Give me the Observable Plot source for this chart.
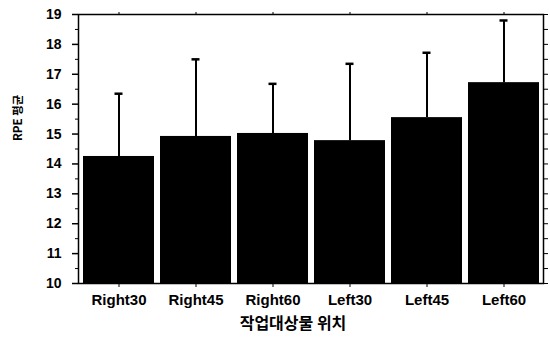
<!DOCTYPE html>
<html>
<head>
<meta charset="utf-8">
<script src="https://cdn.jsdelivr.net/npm/d3@7"></script>
<script src="https://cdn.jsdelivr.net/npm/@observablehq/plot@0.6"></script>
<style>
  html, body { margin: 0; padding: 0; background: #fff; }
</style>
</head>
<body>
<div id="chart"></div>
<script>
const categories = ["Right30", "Right45", "Right60", "Left30", "Left45", "Left60"];
const means = [14.25, 14.92, 15.02, 14.78, 15.55, 16.72];
const upper = [16.35, 17.5, 16.68, 17.35, 17.72, 18.8];
const majorTicks = [10, 11, 12, 13, 14, 15, 16, 17, 18, 19];
const minorTicks = [10.5, 11.5, 12.5, 13.5, 14.5, 15.5, 16.5, 17.5, 18.5];
const xTitle = "작업대상물 위치";
const yTitle = "RPE 평균";

const data = categories.map((c, i) => ({cat: c, mean: means[i], upper: upper[i]}));
const allTicks = majorTicks.concat(minorTicks);

const chart = Plot.plot({
  width: 550,
  height: 340,
  marginLeft: 78,
  marginRight: 7,
  marginTop: 14,
  marginBottom: 57,
  style: {fontFamily: "'Liberation Sans', Arial, sans-serif", background: "#fff", color: "#000"},
  x: {domain: categories, paddingInner: 0.08, paddingOuter: 0.04},
  y: {domain: [10, 19]},
  marks: [
    Plot.barY(data, {x: "cat", y1: 10, y2: "mean", fill: "#000"}),
    Plot.ruleX(data, {x: "cat", y1: "mean", y2: "upper", stroke: "#000", strokeWidth: 2}),
    Plot.tickY(data, {x: "cat", y: "upper", stroke: "#000", strokeWidth: 2.5, insetLeft: 31.5, insetRight: 31.5}),
    Plot.frame({stroke: "#000", strokeWidth: 1.5}),
    Plot.axisY({ticks: majorTicks, tickSize: 6, tickPadding: 11, fontSize: 14, fontWeight: "bold", label: null, strokeWidth: 1.5}),
    Plot.axisY({ticks: minorTicks, tickSize: 3, text: null, label: null}),
    Plot.axisY({anchor: "right", ticks: allTicks, tickSize: 4, text: null, label: null}),
    Plot.axisX({tickSize: 4, tickPadding: 7, fontSize: 15, fontWeight: "bold", label: null}),
    Plot.axisX({anchor: "top", tickSize: 3, text: null, label: null}),
    Plot.text([xTitle], {frameAnchor: "bottom", dx: -18, dy: 45, fontSize: 16, fontWeight: "bold", fontFamily: "'Noto Sans CJK KR', sans-serif", fill: "#000"}),
    Plot.text([yTitle], {frameAnchor: "left", dx: -60, dy: -8, rotate: -90, fontSize: 11.5, fontWeight: "bold", fontFamily: "'Noto Sans CJK KR', sans-serif", fill: "#000"})
  ]
});
document.getElementById("chart").appendChild(chart);
</script>
</body>
</html>
